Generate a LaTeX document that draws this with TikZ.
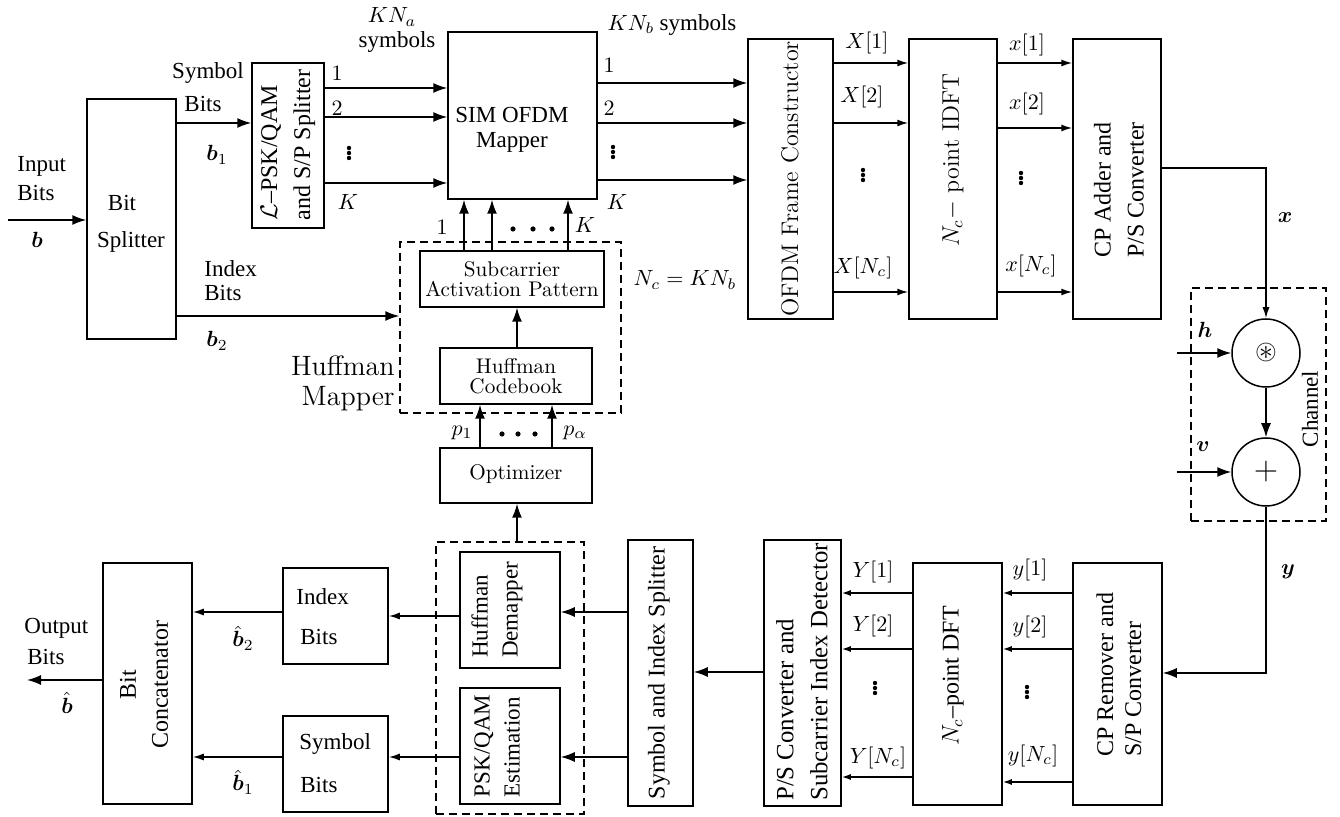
\RequirePackage{fix-cm}
\documentclass[tikz,border=0pt]{standalone}
\usepackage{amsmath,amssymb,bm}
\usepackage{fontspec}
\setmainfont{Liberation Serif}
\usetikzlibrary{arrows.meta,fit}
\newcommand\lmr{\fontfamily{lmr}\selectfont}
\newcommand\vdts[2]{\fill (#1,#2-5) circle[radius=1.1pt] (#1,#2) circle[radius=1.1pt] (#1,#2+5) circle[radius=1.1pt];}
\newcommand\hdt[2]{\fill (#1,#2) circle[radius=1.3pt];}
\begin{document}
\begin{tikzpicture}[x=0.5pt,y=-0.5pt,
  every node/.style={inner sep=0pt},
  box/.style={draw, line width=0.75pt, inner sep=0pt},
  dbox/.style={draw, line width=0.7pt, dash pattern=on 4pt off 2.5pt, inner sep=0pt},
  circ/.style={draw, circle, line width=0.75pt, minimum size=34pt, inner sep=0pt},
  ln/.style={line width=0.75pt},
  barr/.style={ln, -{Latex[length=7pt,width=5pt]}},
  marr/.style={ln, -{Latex[length=5.5pt,width=3.5pt]}},
  sarr/.style={ln, -{Latex[length=4.5pt,width=3pt]}},
  tnr/.style={font=\fontsize{11.5}{13.5}\selectfont},
  ml/.style={font=\fontsize{11}{13}\selectfont},
  cmt/.style={font=\lmr\fontsize{10.6}{10}\selectfont, align=center},
  rt/.style={rotate=90, font=\fontsize{12}{16.5}\selectfont},
]
\useasboundingbox (0,0) rectangle (1340,817);

% ---------- boxes ----------
\node[box, fit={(87,99)(176,339)}] (bs) {};
\node[box, fit={(252,63)(324,228)}] (lp) {};
\node[box, fit={(448,32)(597,199)}] (sim) {};
\node[box, fit={(748,39)(833,319)}] (ofdm) {};
\node[box, fit={(909,39)(997,319)}] (idft) {};
\node[box, fit={(1073,39)(1161,319)}] (cpa) {};
\node[dbox, fit={(400,242)(621,413)}] (hmap) {};
\node[box, fit={(420,251)(604,307)}] (sap) {};
\node[box, fit={(440,348)(592,404)}] (hcb) {};
\node[box, fit={(440,448)(592,503)}] (opt) {};
\node[dbox, fit={(1191,288)(1326,521)}] (chan) {};
\node[circ, font=\fontsize{14}{14}\selectfont] (conv) at (1266,353) {$\circledast$};
\node[circ, font=\fontsize{16}{16}\selectfont] (add) at (1266,472) {$+$};
\node[box, fit={(1073,563)(1162,805)}] (cpr) {};
\node[box, fit={(913,563)(1002,805)}] (dft) {};
\node[box, fit={(764,540)(841,806)}] (psc) {};
\node[box, fit={(628,540)(693,806)}] (sis) {};
\node[dbox, fit={(436,542)(584,814)}] (dmx) {};
\node[box, fit={(460,552)(560,668)}] (hdm) {};
\node[box, fit={(460,688)(560,804)}] (pske) {};
\node[box, fit={(283,568)(388,664)}] (ibx) {};
\node[box, fit={(283,716)(388,812)}] (sbx) {};
\node[box, fit={(103,563)(192,804)}] (bcat) {};

% ---------- connectors ----------
\coordinate (inb) at (8,220);
\draw[barr] (inb) -- (inb -| bs.west);
\draw[barr] (bs.east |- 0,123) -- (lp.west |- 0,123);
\draw[barr] (bs.east |- 0,316) -- (hmap.west |- 0,316);
\foreach \y in {88,117,183} \draw[barr] (lp.east |- 0,\y) -- (sim.west |- 0,\y);
\foreach \y in {83,123,180} \draw[barr] (sim.east |- 0,\y) -- (ofdm.west |- 0,\y);
\foreach \x in {464,492,568} \draw[barr] (sap.north -| \x,0) -- (sim.south -| \x,0);
\draw[barr] (hcb.north -| 517,0) -- (sap.south -| 517,0);
\foreach \x in {480,552} \draw[barr] (opt.north -| \x,0) -- (hcb.south -| \x,0);
\draw[barr] (dmx.north -| 517,0) -- (opt.south -| 517,0);
\foreach \y in {63,123,292} \draw[marr] (ofdm.east |- 0,\y) -- (idft.west |- 0,\y);
\foreach \y in {63,128,292} \draw[marr] (idft.east |- 0,\y) -- (cpa.west |- 0,\y);
\draw[marr] (cpa.east |- 0,168) -| (conv.north);
\coordinate (hin) at (1177,353);
\draw[barr] (hin) -- (conv.west);
\coordinate (vin) at (1177,472);
\draw[barr] (vin) -- (add.west);
\draw[barr] (conv.south) -- (add.north);
\draw[barr] (add.south) |- (cpr.east |- 0,673);
\foreach \y in {593,649,782} \draw[sarr] (cpr.west |- 0,\y) -- (dft.east |- 0,\y);
\foreach \y in {593,649,777} \draw[sarr] (dft.west |- 0,\y) -- (psc.east |- 0,\y);
\draw[barr] (psc.west |- 0,672) -- (sis.east |- 0,672);
\draw[barr] (sis.west |- 0,612) -- (hdm.east |- 0,612);
\draw[barr] (sis.west |- 0,757) -- (pske.east |- 0,757);
\draw[marr] (hdm.west |- 0,616) -- (ibx.east |- 0,616);
\draw[marr] (pske.west |- 0,757) -- (sbx.east |- 0,757);
\draw[marr] (ibx.west |- 0,612) -- (bcat.east |- 0,612);
\draw[marr] (sbx.west |- 0,757) -- (bcat.east |- 0,757);
\coordinate (outb) at (27,680);
\draw[barr] (bcat.west |- 0,680) -- (outb);

% ---------- texts: transmitter ----------
\node[tnr, anchor=west] (tin1) at (17,166) {Input};
\node[tnr, anchor=west] (tin2) at (17,193) {Bits};
\node[ml] (tb) at (37,240) {$\bm b$};
\node[tnr] (tbs1) at (122,203) {Bit};
\node[tnr] (tbs2) at (131,242) {Splitter};
\node[tnr] (tsy1) at (208,73) {Symbol};
\node[tnr] (tsy2) at (203,104) {Bits};
\node[ml] (tb1) at (217,155) {$\bm b_1$};
\node[tnr, anchor=west] (tix1) at (204,269) {Index};
\node[tnr, anchor=west] (tix2) at (204,293) {Bits};
\node[ml] (tb2) at (217,341) {$\bm b_2$};
\node[rt, align=left] (tlp) at (288,145) {$\mathcal{L}$–PSK/QAM\\and S/P Splitter};
\node[ml] (ta1) at (337,73) {$1$};
\node[ml] (ta2) at (337,108) {$2$};
\vdts{349}{153}
\node[ml] (taK) at (348,202) {$K$};
\node[ml] (tkna) at (392,17) {$KN_a$};
\node[tnr] (tkna2) at (397,42) {symbols};
\node[tnr, align=center, font=\fontsize{11.5}{12.5}\selectfont] (tsim) at (512,130) {SIM OFDM\\Mapper};
\node[ml] (tc1) at (609,65) {$1$};
\node[ml] (tc2) at (609,108) {$2$};
\vdts{613}{152}
\node[ml] (tcK) at (617,202) {$K$};
\node[ml] (tknb) at (672,25) {$KN_b$ \fontsize{11.5}{13.5}\selectfont symbols};
\node[ml] (td1) at (442,227) {$1$};
\hdt{513}{229}\hdt{533}{229}\hdt{552}{229}
\node[ml] (tdK) at (585,225) {$K$};
\node[ml] (tnc) at (685,280) {$N_c = KN_b$};
\node[cmt] (tsap) at (512,279) {Subcarrier\\Activation Pattern};
\node[cmt] (thcb) at (516,376) {Huffman\\Codebook};
\node[cmt] (topt) at (516,474) {Optimizer};
\node[anchor=east, align=right, font=\lmr\fontsize{14}{15}\selectfont] (thm) at (395,383) {Huffman\\Mapper};
\node[ml] (tp1) at (462,433) {$p_1$};
\hdt{502}{434}\hdt{518}{434}\hdt{535}{434}
\node[ml] (tpa) at (575,433) {$p_\alpha$};
\node[rotate=90, font=\lmr\fontsize{12}{14}\selectfont] (tofdm) at (790,179) {OFDM Frame Constructor};
\node[rotate=90, font=\lmr\fontsize{12}{14}\selectfont] (tidft) at (953,160) {$N_c-$ point IDFT};
\node[rt, align=center] (tcpa) at (1119,190) {CP Adder and\\P/S Converter};
\node[ml] (tX1) at (867,43) {$X[1]$};
\node[ml] (tX2) at (862,97) {$X[2]$};
\vdts{863}{175}
\node[ml] (tXN) at (863,268) {$X[N_c]$};
\node[ml] (tx1) at (1027,45) {$x[1]$};
\node[ml] (tx2) at (1027,104) {$x[2]$};
\vdts{1021}{178}
\node[ml] (txN) at (1031,266) {$x[N_c]$};
\node[ml] (txb) at (1285,218) {$\bm x$};
\node[ml] (thb) at (1205,330) {$\bm h$};
\node[ml] (tvb) at (1203,447) {$\bm v$};
\node[ml] (tyb) at (1288,572) {$\bm y$};
\node[rotate=90, font=\fontsize{11.5}{13.5}\selectfont] (tch) at (1310,409) {Channel};

% ---------- texts: receiver ----------
\node[rt, align=left, font=\fontsize{12}{14}\selectfont] (tcpr) at (1119,675) {CP Remover and\\S/P Converter};
\node[rt] (tdft) at (953,676) {$N_c$–point DFT};
\node[ml] (ty1) at (1030,570) {$y[1]$};
\node[ml] (ty2) at (1030,627) {$y[2]$};
\vdts{1027}{692}
\node[ml] (tyN) at (1033,756) {$y[N_c]$};
\node[ml] (tY1) at (873,572) {$Y[1]$};
\node[ml] (tY2) at (873,626) {$Y[2]$};
\vdts{875}{688}
\node[ml] (tYN) at (878,758) {$Y[N_c]$};
\node[rt, align=left, font=\fontsize{12.4}{17}\selectfont] (tpsc) at (802,672) {P/S Converter and\\Subcarrier Index Detector};
\node[rt] (tsis) at (659,673) {Symbol and Index Splitter};
\node[rt, align=left, font=\fontsize{11.5}{15}\selectfont] (thdm) at (497,610) {Huffman\\Demapper};
\node[rt, align=left, font=\fontsize{11.5}{15}\selectfont] (tpsk) at (497,746) {PSK/QAM\\Estimation};
\node[tnr, anchor=west] (tib1) at (296,597) {Index};
\node[tnr, anchor=west] (tib2) at (300,637) {Bits};
\node[tnr, anchor=west] (tsb1) at (299,744) {Symbol};
\node[tnr, anchor=west] (tsb2) at (300,785) {Bits};
\node[ml] (tbh2) at (243,638) {$\hat{\bm b}_2$};
\node[ml] (tbh1) at (243,782) {$\hat{\bm b}_1$};
\node[rt, align=center, font=\fontsize{12}{16}\selectfont] (tbc) at (144,685) {Bit\\Concatenator};
\node[tnr, anchor=west] (tob1) at (24,628) {Output};
\node[tnr, anchor=west] (tob2) at (27,657) {Bits};
\node[ml] (tbh) at (67,703) {$\hat{\bm b}$};
\end{tikzpicture}
\end{document}
